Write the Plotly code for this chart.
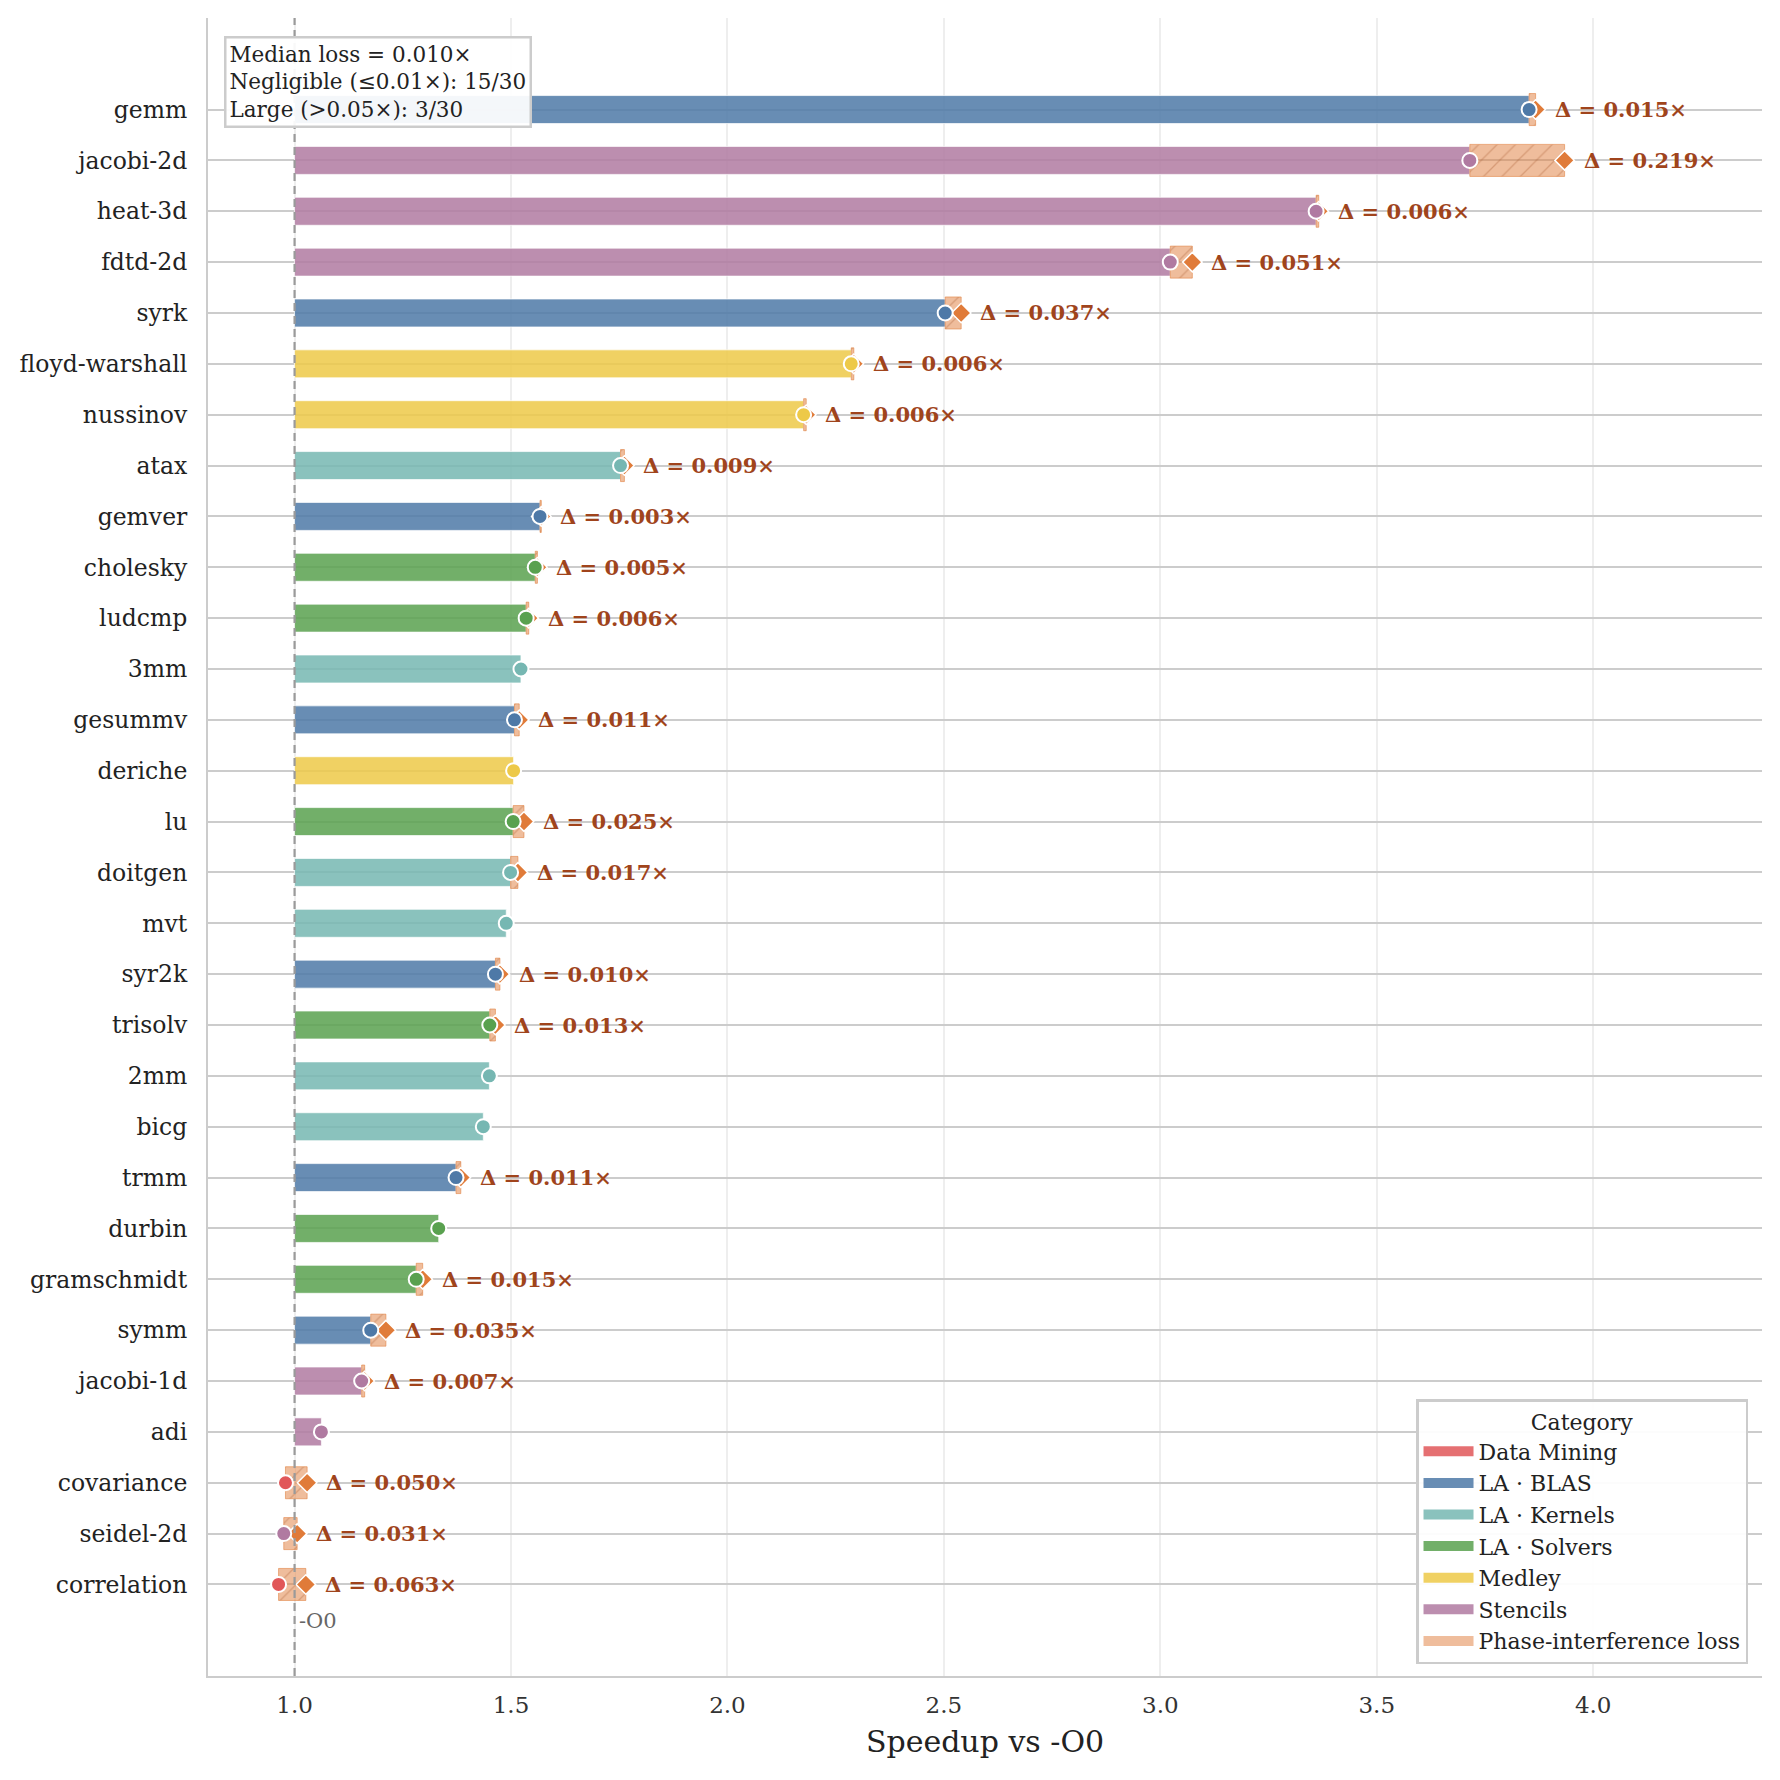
import plotly.graph_objects as go
import numpy as np

benchmarks = ["gemm", "jacobi-2d", "heat-3d", "fdtd-2d", "syrk", "floyd-warshall", "nussinov",
              "atax", "gemver", "cholesky", "ludcmp", "3mm", "gesummv", "deriche", "lu", "doitgen",
              "mvt", "syr2k", "trisolv", "2mm", "bicg", "trmm", "durbin", "gramschmidt", "symm",
              "jacobi-1d", "adi", "covariance", "seidel-2d", "correlation"]
categories = ["LA · BLAS", "Stencils", "Stencils", "Stencils", "LA · BLAS", "Medley", "Medley",
              "LA · Kernels", "LA · BLAS", "LA · Solvers", "LA · Solvers", "LA · Kernels", "LA · BLAS",
              "Medley", "LA · Solvers", "LA · Kernels", "LA · Kernels", "LA · BLAS", "LA · Solvers",
              "LA · Kernels", "LA · Kernels", "LA · BLAS", "LA · Solvers", "LA · Solvers", "LA · BLAS",
              "Stencils", "Stencils", "Data Mining", "Stencils", "Data Mining"]
achieved = [3.852, 3.715, 3.360, 3.023, 2.503, 2.286, 2.176, 1.753, 1.567, 1.556, 1.535, 1.523,
            1.508, 1.506, 1.505, 1.499, 1.489, 1.464, 1.451, 1.450, 1.436, 1.373, 1.333, 1.281,
            1.176, 1.155, 1.062, 0.979, 0.975, 0.963]
loss = [0.015, 0.219, 0.006, 0.051, 0.037, 0.006, 0.006, 0.009, 0.003, 0.005, 0.006, 0.0,
        0.011, 0.0, 0.025, 0.017, 0.0, 0.0104, 0.013, 0.0, 0.0, 0.011, 0.0, 0.015,
        0.035, 0.007, 0.0, 0.050, 0.031, 0.063]

cat_order = ["Data Mining", "LA · BLAS", "LA · Kernels", "LA · Solvers", "Medley", "Stencils"]
cat_colors = {"Data Mining": "#E15759", "LA · BLAS": "#4E79A7", "LA · Kernels": "#76B7B2",
              "LA · Solvers": "#59A14F", "Medley": "#EDC948", "Stencils": "#B07AA1"}
x_ticks = [1.0, 1.5, 2.0, 2.5, 3.0, 3.5, 4.0]

FONT = "DejaVu Serif"
LOSS_COLOR = "#E07B39"


def rgba(hexc, a):
    h = hexc.lstrip("#")
    return f"rgba({int(h[0:2],16)},{int(h[2:4],16)},{int(h[4:6],16)},{a})"


n = len(benchmarks)
ypos = list(range(n))
ideal = [a + l for a, l in zip(achieved, loss)]

fig = go.Figure()

# category bars
for cat in cat_order:
    idx = [i for i in range(n) if categories[i] == cat]
    fig.add_trace(go.Bar(
        orientation="h",
        y=[ypos[i] for i in idx],
        x=[max(achieved[i] - 1.0, 0.0) for i in idx],
        base=1.0,
        width=0.55,
        name=cat,
        showlegend=False,
        marker=dict(color=rgba(cat_colors[cat], 0.85),
                    line=dict(color="rgba(255,255,255,0.7)", width=1)),
        hoverinfo="skip",
    ))

# loss segments
li = [i for i in range(n) if loss[i] > 0]
fig.add_trace(go.Bar(
    orientation="h",
    y=[ypos[i] for i in li],
    x=[loss[i] for i in li],
    base=[achieved[i] for i in li],
    width=0.63,
    showlegend=False,
    marker=dict(color=rgba(LOSS_COLOR, 0.5),
                line=dict(color=rgba(LOSS_COLOR, 0.55), width=1),
                pattern=dict(shape="/", fillmode="overlay", fgcolor="#A85A30",
                             fgopacity=0.35, size=13, solidity=0.1)),
    hoverinfo="skip",
))

# legend entries (wide patches)
for cat in cat_order:
    fig.add_trace(go.Scatter(x=[None], y=[None], mode="lines", name=cat,
                             line=dict(color=rgba(cat_colors[cat], 0.85), width=18)))
fig.add_trace(go.Scatter(x=[None], y=[None], mode="lines", name="Phase-interference loss",
                         line=dict(color=rgba(LOSS_COLOR, 0.5), width=18)))

# ideal diamonds
fig.add_trace(go.Scatter(
    x=[ideal[i] for i in li], y=[ypos[i] for i in li], mode="markers", showlegend=False,
    marker=dict(symbol="diamond", size=15, color=LOSS_COLOR, line=dict(color="white", width=1.5)),
))
# achieved circles
fig.add_trace(go.Scatter(
    x=achieved, y=ypos, mode="markers", showlegend=False,
    marker=dict(symbol="circle", size=15, color=[cat_colors[c] for c in categories],
                line=dict(color="white", width=2)),
))

annotations = []
for i in range(n):
    if loss[i] > 0.002:
        annotations.append(dict(
            x=ideal[i], y=ypos[i], xref="x", yref="y", xanchor="left", yanchor="middle",
            xshift=17, showarrow=False, text=f"<b>Δ = {loss[i]:.3f}×</b>",
            font=dict(family=FONT, size=21, color="#A0441C")))

med = float(np.median(loss))
negl = sum(1 for l in loss if l <= 0.01)
large = sum(1 for l in loss if l > 0.05)
annotations.append(dict(
    xref="paper", yref="paper", x=0.0105, y=0.989, xanchor="left", yanchor="top",
    showarrow=False, align="left",
    text=f"Median loss = {med:.3f}×<br>Negligible (≤0.01×): {negl}/{n}<br>Large (>0.05×): {large}/{n}",
    font=dict(family=FONT, size=21.5, color="#222222"),
    bgcolor="rgba(255,255,255,0.93)", bordercolor="#CCCCCC", borderwidth=2.5, borderpad=3))
annotations.append(dict(
    x=1.0, xref="x", y=0.033, yref="y domain", xanchor="left", yanchor="middle", xshift=2,
    showarrow=False, text="-O0", font=dict(family=FONT, size=21, color="#666666")))

fig.add_shape(type="line", x0=1.0, x1=1.0, xref="x", y0=0, y1=1, yref="y domain",
              line=dict(color="#9A9A9A", width=2.2, dash="8px,5px"), layer="above")

fig.update_layout(
    width=1780, height=1780,
    margin=dict(l=208, r=18, t=18, b=104),
    paper_bgcolor="white", plot_bgcolor="white",
    barmode="overlay",
    font=dict(family=FONT, color="#222222"),
    annotations=annotations,
    legend=dict(
        title=dict(text="Category", side="top center", font=dict(family=FONT, size=22, color="#222222")),
        x=0.991, y=0.007, xanchor="right", yanchor="bottom",
        bgcolor="rgba(255,255,255,0.93)", bordercolor="#CCCCCC", borderwidth=2.5,
        font=dict(family=FONT, size=22, color="#222222"),
        traceorder="normal", itemwidth=50,
    ),
    xaxis=dict(
        range=[0.8, 4.39], tickvals=x_ticks, ticktext=[f"{v:.1f}" for v in x_ticks],
        showgrid=True, gridcolor="#EEEEEE", gridwidth=1.5, zeroline=False,
        showline=True, linecolor="#CCCCCC", linewidth=2, ticks="",
        tickfont=dict(family=FONT, size=23, color="#333333"), ticklabelstandoff=7,
        title=dict(text="Speedup vs -O0", font=dict(family=FONT, size=30, color="#222222"), standoff=14),
    ),
    yaxis=dict(
        range=[n - 1 + 1.8, -1.8], tickvals=ypos, ticktext=benchmarks,
        showgrid=True, gridcolor="#CCCCCC", gridwidth=2, zeroline=False,
        showline=True, linecolor="#CCCCCC", linewidth=2, ticks="",
        tickfont=dict(family=FONT, size=23.5, color="#222222"), ticklabelstandoff=14,
    ),
)

fig.write_html("out.html")
